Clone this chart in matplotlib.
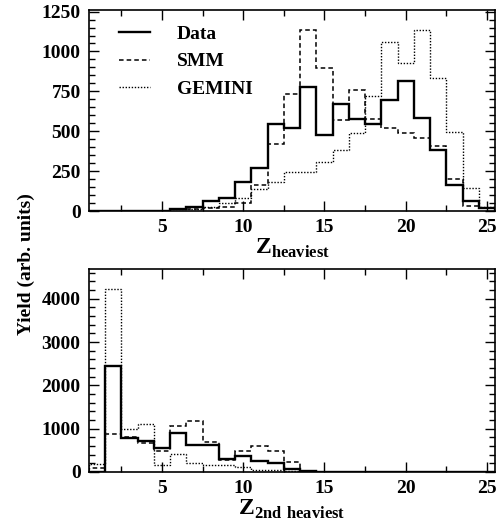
import numpy as np
import matplotlib
matplotlib.use('Agg')
import matplotlib.pyplot as plt
from matplotlib.ticker import MultipleLocator

plt.rcParams['font.family'] = 'Liberation Serif'
plt.rcParams['font.weight'] = 'bold'
plt.rcParams['mathtext.fontset'] = 'custom'
plt.rcParams['mathtext.bf'] = 'Liberation Serif:bold'
plt.rcParams['mathtext.rm'] = 'Liberation Serif:bold'

# Z bins 1..25
z = np.arange(1, 26)
edges = np.arange(0.5, 26.5, 1.0)

# heaviest fragment
data_top = [0, 0, 0, 0, 2, 12, 27, 63, 79, 179, 267, 548, 523, 777, 475,
            669, 579, 544, 694, 812, 585, 385, 163, 60, 17]
smm_top = [0, 0, 0, 0, 2, 10, 13, 21, 27, 52, 162, 423, 735, 1135, 898,
           573, 757, 575, 521, 492, 460, 408, 200, 33, 21]
gem_top = [0, 0, 0, 0, 2, 10, 15, 27, 48, 83, 140, 183, 244, 244, 308,
           381, 490, 721, 1058, 927, 1135, 835, 495, 142, 23]

# 2nd heaviest fragment
data_bot = [0, 2440, 780, 710, 550, 890, 630, 630, 300, 375, 245, 205, 60,
            30, 0, 0, 0, 0, 0, 0, 0, 0, 0, 0, 0]
smm_bot = [90, 880, 800, 670, 490, 1055, 1185, 685, 275, 475, 590, 475, 225,
           30, 5, 0, 0, 0, 0, 0, 0, 0, 0, 0, 0]
gem_bot = [185, 4230, 1000, 1115, 155, 415, 200, 170, 155, 125, 55, 40, 15,
           8, 0, 0, 0, 0, 0, 0, 0, 0, 0, 0, 0]

fig = plt.figure(figsize=(5, 5.25), dpi=100)
ax1 = fig.add_axes([0.178, 0.598, 0.812, 0.383])
ax2 = fig.add_axes([0.178, 0.101, 0.812, 0.387])


def draw(ax, d, s, g):
    ax.stairs(d, edges, color='black', lw=1.7, label='Data')
    ax.stairs(s, edges, color='black', lw=1.1, ls=(0, (3, 2)), label='SMM')
    ax.stairs(g, edges, color='black', lw=1.0, ls=(0, (1, 1.2)), label='GEMINI')
    ax.set_xlim(0.5, 25.5)
    ax.xaxis.set_major_locator(MultipleLocator(5))
    ax.xaxis.set_minor_locator(MultipleLocator(2.5))
    ax.tick_params(which='both', direction='in', top=True, right=True,
                   labelsize=14, pad=6)
    ax.tick_params(which='major', length=7, width=1)
    ax.tick_params(which='minor', length=4, width=1)
    for sp in ax.spines.values():
        sp.set_linewidth(1.2)


draw(ax1, data_top, smm_top, gem_top)
ax1.set_ylim(0, 1260)
ax1.yaxis.set_major_locator(MultipleLocator(250))
ax1.yaxis.set_minor_locator(MultipleLocator(50))
ax1.set_xlabel(r'$\mathbf{Z}_{\mathbf{heaviest}}$', fontsize=17, labelpad=0)
ax1.legend(loc='upper left', bbox_to_anchor=(0.03, 1.01), frameon=False,
           handlelength=1.6, handletextpad=1.4, labelspacing=0.5,
           prop={'weight': 'bold', 'size': 14})

draw(ax2, data_bot, smm_bot, gem_bot)
ax2.set_ylim(0, 4690)
ax2.yaxis.set_major_locator(MultipleLocator(1000))
ax2.yaxis.set_minor_locator(MultipleLocator(200))
ax2.set_xlabel(r'$\mathbf{Z}_{\mathbf{2nd\ heaviest}}$', fontsize=17, labelpad=0)

fig.text(0.052, 0.497, 'Yield (arb. units)', rotation=90, ha='center',
         va='center', fontsize=14, fontweight='bold')

fig.savefig('out.png', dpi=100)
